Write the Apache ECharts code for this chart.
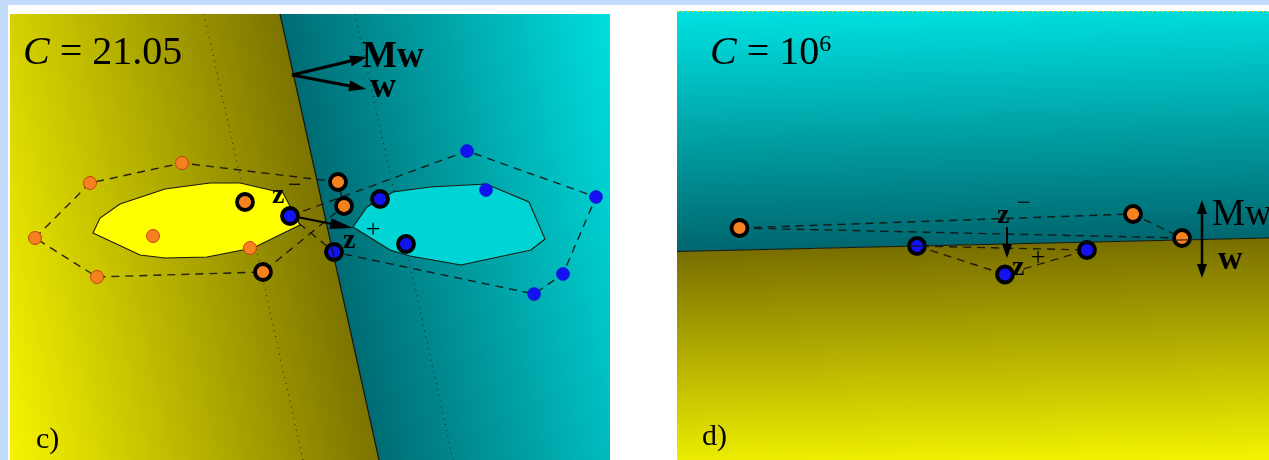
<!DOCTYPE html>
<html>
<head>
<meta charset="utf-8">
<script src="https://cdn.jsdelivr.net/npm/echarts@6/dist/echarts.min.js"></script>
<style>
  html, body { margin: 0; padding: 0; background: #fff; }
  #chart { width: 1269px; height: 460px; }
</style>
</head>
<body>
<div id="chart"></div>
<script>
// ---------- Panel c: soft-margin SVM, C = 21.05 ----------
const cNegPoints  = [[0.25, 2.22], [0.80, 2.77], [1.72, 2.97], [0.87, 1.83], [1.43, 2.24], [2.40, 2.12]];
const cNegSupport = [[2.35, 2.58], [2.53, 1.88], [3.28, 2.78], [3.34, 2.54]];
const cPosPoints  = [[4.57, 3.09], [4.76, 2.70], [5.86, 2.63], [5.53, 1.86], [5.24, 1.66]];
const cPosSupport = [[2.80, 2.44], [3.24, 2.08], [3.70, 2.61], [3.96, 2.16]];
const cNegHull = [[0.25, 2.22], [0.80, 2.77], [1.72, 2.97], [3.28, 2.78], [3.34, 2.54], [2.53, 1.88], [0.87, 1.83]];
const cPosHull = [[2.80, 2.44], [4.57, 3.09], [5.86, 2.63], [5.53, 1.86], [5.24, 1.66], [3.24, 2.08]];
const cNegContour = [[0.83, 2.27], [0.90, 2.42], [1.10, 2.56], [1.55, 2.71], [2.00, 2.77], [2.30, 2.77],
                     [2.73, 2.67], [2.90, 2.35], [2.43, 2.12], [1.97, 2.03], [1.55, 2.02], [1.30, 2.05]];
const cPosContour = [[3.43, 2.33], [3.57, 2.53], [3.83, 2.68], [4.20, 2.73], [4.76, 2.76], [5.19, 2.58],
                     [5.35, 2.21], [5.21, 2.10], [4.51, 1.95], [4.00, 2.04], [3.80, 2.10]];
const cBoundary  = [[2.70, 4.46], [3.69, 0]];
const cMarginNeg = [[1.94, 4.46], [2.93, 0]];
const cMarginPos = [[3.45, 4.46], [4.43, 0]];
const cNormal = { origin: [2.82, 3.85], w: [3.56, 3.71], Mw: [3.57, 4.03] };
const cZArrow = [[2.87, 2.43], [3.43, 2.32]];
const cRange = { x: [0, 6], y: [0, 4.46] };

// ---------- Panel d: hard margin, C = 10^6 ----------
const dNegSupport = [[0.625, 2.32], [4.56, 2.46], [5.05, 2.22]];
const dPosSupport = [[2.40, 2.14], [3.28, 1.855], [4.10, 2.10]];
const dNegHull = [[0.625, 2.32], [4.56, 2.46], [5.05, 2.22]];
const dPosHull = [[2.40, 2.14], [3.28, 1.855], [4.10, 2.10]];
const dBoundary = [[0, 2.085], [5.92, 2.22]];
const dNormal = { origin: [5.25, 2.22], Mw: [5.25, 2.60], w: [5.25, 1.82] };
const dZArrow = [[3.30, 2.33], [3.30, 2.02]];
const dRange = { x: [0, 5.92], y: [0, 4.49] };

// ---------- drawing ----------
const SERIF = '"Liberation Serif", "DejaVu Serif", serif';
const ORANGE = '#f5821f', BLUE = '#1212f2';

// keep the part of a pixel polygon where f(p) >= 0
function clipHalf(pts, f) {
  const out = [];
  for (let i = 0; i < pts.length; i++) {
    const a = pts[i], b = pts[(i + 1) % pts.length], fa = f(a), fb = f(b);
    if (fa >= 0) out.push(a);
    if ((fa >= 0) !== (fb >= 0)) {
      const t = fa / (fa - fb);
      out.push([a[0] + t * (b[0] - a[0]), a[1] + t * (b[1] - a[1])]);
    }
  }
  return out;
}

// two half-planes shaded by distance to the decision boundary
function regionSeries(axis, boundary, range, neg, pos) {
  return {
    type: 'custom', xAxisIndex: axis, yAxisIndex: axis, silent: true, z: 1,
    data: [[range.x[0], range.y[0]]],
    renderItem(params, api) {
      const P0 = api.coord(boundary[0]), P1 = api.coord(boundary[1]);
      const dx = P1[0] - P0[0], dy = P1[1] - P0[1], L = Math.hypot(dx, dy);
      const n = [dy / L, -dx / L];
      const f = p => (p[0] - P0[0]) * n[0] + (p[1] - P0[1]) * n[1];
      const rect = [[range.x[0], range.y[1]], [range.x[1], range.y[1]], [range.x[1], range.y[0]], [range.x[0], range.y[0]]]
        .map(c => api.coord(c));
      const d = rect.map(f);
      const dPos = Math.max(...d), dNeg = -Math.min(...d);
      const gPos = new echarts.graphic.LinearGradient(P0[0], P0[1], P0[0] + n[0] * dPos, P0[1] + n[1] * dPos,
        [{ offset: 0, color: pos[0] }, { offset: 1, color: pos[1] }], true);
      const gNeg = new echarts.graphic.LinearGradient(P0[0], P0[1], P0[0] - n[0] * dNeg, P0[1] - n[1] * dNeg,
        [{ offset: 0, color: neg[0] }, { offset: 1, color: neg[1] }], true);
      return {
        type: 'group', children: [
          { type: 'polygon', shape: { points: clipHalf(rect, f) }, style: { fill: gPos } },
          { type: 'polygon', shape: { points: clipHalf(rect, p => -f(p)) }, style: { fill: gNeg } }
        ]
      };
    }
  };
}

// polylines / polygons given in data coordinates
function shapeSeries(axis, z, list) {
  return {
    type: 'custom', xAxisIndex: axis, yAxisIndex: axis, silent: true, z,
    data: list.map(s => s.points[0]),
    renderItem(params, api) {
      const s = list[params.dataIndex];
      const pts = s.points.map(p => api.coord(p));
      return { type: s.closed ? 'polygon' : 'polyline', shape: { points: pts }, style: s.style };
    }
  };
}

function arrowParts(a, b, head, width, lw) {
  const dx = b[0] - a[0], dy = b[1] - a[1], L = Math.hypot(dx, dy), ux = dx / L, uy = dy / L;
  const base = [b[0] - ux * head, b[1] - uy * head];
  return [
    { type: 'line', shape: { x1: a[0], y1: a[1], x2: base[0] + ux * 2, y2: base[1] + uy * 2 },
      style: { stroke: '#000', lineWidth: lw } },
    { type: 'polygon', shape: { points: [b, [base[0] - uy * width / 2, base[1] + ux * width / 2],
                                            [base[0] + uy * width / 2, base[1] - ux * width / 2]] },
      style: { fill: '#000' } }
  ];
}

function arrowSeries(axis, list) {
  return {
    type: 'custom', xAxisIndex: axis, yAxisIndex: axis, silent: true, z: 10,
    data: list.map(a => a.from),
    renderItem(params, api) {
      const a = list[params.dataIndex];
      return { type: 'group', children: arrowParts(api.coord(a.from), api.coord(a.to), a.head, a.width, a.lw) };
    }
  };
}

function labelSeries(axis, list) {
  return {
    type: 'custom', xAxisIndex: axis, yAxisIndex: axis, silent: true, z: 11,
    data: list.map(l => l.at),
    renderItem(params, api) {
      const l = list[params.dataIndex];
      const p = api.coord(l.at);
      return {
        type: 'text', x: p[0] + l.dx, y: p[1] + l.dy,
        style: {
          text: l.text, fill: '#000', fontFamily: SERIF, fontSize: l.size,
          fontWeight: l.bold ? 'bold' : 'normal',
          align: l.align || 'left', verticalAlign: 'middle'
        }
      };
    }
  };
}

function dots(axis, data, size, fill, border, bw, z) {
  return {
    type: 'scatter', xAxisIndex: axis, yAxisIndex: axis, data, silent: true, z,
    symbol: 'circle', symbolSize: size,
    itemStyle: { color: fill, borderColor: border, borderWidth: bw, opacity: 1 }
  };
}

const hullStyle = { fill: 'none', stroke: 'rgba(20,20,15,0.9)', lineWidth: 1.4, lineDash: [8, 6] };
const marginStyle = { fill: 'none', stroke: 'rgba(0,0,0,0.6)', lineWidth: 1.2, lineDash: [1, 5] };
const boundaryStyle = { fill: 'none', stroke: '#151510', lineWidth: 1.2 };

const chart = echarts.init(document.getElementById('chart'), null, { renderer: 'canvas' });

const axisBase = { type: 'value', show: false, splitLine: { show: false } };

chart.setOption({
  animation: false,
  backgroundColor: '#ffffff',
  grid: [
    { left: 10, top: 14, width: 600, height: 446 },
    { left: 677, top: 11, width: 592, height: 449 }
  ],
  xAxis: [
    Object.assign({ gridIndex: 0, min: cRange.x[0], max: cRange.x[1] }, axisBase),
    Object.assign({ gridIndex: 1, min: dRange.x[0], max: dRange.x[1] }, axisBase)
  ],
  yAxis: [
    Object.assign({ gridIndex: 0, min: cRange.y[0], max: cRange.y[1] }, axisBase),
    Object.assign({ gridIndex: 1, min: dRange.y[0], max: dRange.y[1] }, axisBase)
  ],
  graphic: [
    { type: 'rect', shape: { x: 0, y: 0, width: 1269, height: 5 }, style: { fill: '#c4dcfb' }, z: 0 },
    { type: 'rect', shape: { x: 0, y: 0, width: 8, height: 460 }, style: { fill: '#c4dcfb' }, z: 0 },
    { type: 'line', shape: { x1: 677, y1: 11.5, x2: 1269, y2: 11.5 },
      style: { stroke: '#e6e000', lineWidth: 1, lineDash: [2, 3] }, z: 50 },
    { type: 'text', x: 23, y: 53, z: 100,
      style: { text: '{i|C} = 21.05', fontFamily: SERIF, fontSize: 40, fill: '#000', verticalAlign: 'middle',
               rich: { i: { fontFamily: SERIF, fontSize: 40, fontStyle: 'italic' } } } },
    { type: 'text', x: 36, y: 440, z: 100,
      style: { text: 'c)', fontFamily: SERIF, fontSize: 30, fill: '#000', verticalAlign: 'middle' } },
    { type: 'text', x: 710, y: 53, z: 100,
      style: { text: '{i|C} = 10{s|6}', fontFamily: SERIF, fontSize: 40, fill: '#000', verticalAlign: 'middle',
               rich: { i: { fontFamily: SERIF, fontSize: 40, fontStyle: 'italic' },
                       s: { fontFamily: SERIF, fontSize: 24, verticalAlign: 'top' } } } },
    { type: 'text', x: 702, y: 437, z: 100,
      style: { text: 'd)', fontFamily: SERIF, fontSize: 30, fill: '#000', verticalAlign: 'middle' } }
  ],
  series: [
    // ---- panel c ----
    regionSeries(0, cBoundary, cRange, ['#7c7400', '#f6f400'], ['#006c74', '#00dede']),
    shapeSeries(0, 2, [
      { points: cMarginNeg, style: marginStyle },
      { points: cMarginPos, style: marginStyle }
    ]),
    shapeSeries(0, 3, [
      { points: cNegContour, closed: true, style: { fill: '#ffff00', stroke: '#1a1a10', lineWidth: 1.1 } },
      { points: cPosContour, closed: true, style: { fill: '#00d4d4', stroke: '#1a1a10', lineWidth: 1.1 } }
    ]),
    shapeSeries(0, 4, [
      { points: cNegHull, closed: true, style: hullStyle },
      { points: cPosHull, closed: true, style: hullStyle }
    ]),
    dots(0, cNegPoints, 13, ORANGE, '#c8401a', 1, 6),
    dots(0, cPosPoints, 13, BLUE, '#1010c0', 0.6, 6),
    dots(0, cNegSupport, 16, ORANGE, '#000', 3.8, 7),
    dots(0, cPosSupport, 16, BLUE, '#000', 3.8, 7),
    shapeSeries(0, 9, [{ points: cBoundary, style: boundaryStyle }]),
    arrowSeries(0, [
      { from: cNormal.origin, to: cNormal.Mw, head: 17, width: 11, lw: 3 },
      { from: cNormal.origin, to: cNormal.w, head: 17, width: 11, lw: 3 },
      { from: cZArrow[0], to: cZArrow[1], head: 23, width: 11, lw: 2 }
    ]),
    labelSeries(0, [
      { at: cNormal.Mw, dx: -5, dy: 0, text: 'Mw', size: 37, bold: true },
      { at: cNormal.w, dx: 4, dy: -1, text: 'w', size: 36, bold: true },
      { at: cZArrow[0], dx: -25, dy: -21, text: 'z', size: 28, bold: true },
      { at: cZArrow[0], dx: -9, dy: -31, text: '−', size: 24 },
      { at: cZArrow[1], dx: -10, dy: 13, text: 'z', size: 28, bold: true },
      { at: cZArrow[1], dx: 20, dy: 2, text: '+', size: 26, align: 'center' }
    ]),

    // ---- panel d ----
    regionSeries(1, dBoundary, dRange, ['#786e00', '#f4f400'], ['#00666e', '#00e2e2']),
    shapeSeries(1, 4, [
      { points: dNegHull, closed: true, style: hullStyle },
      { points: dPosHull, closed: true, style: hullStyle }
    ]),
    dots(1, dNegSupport, 16, ORANGE, '#000', 3.8, 7),
    dots(1, dPosSupport, 16, BLUE, '#000', 3.8, 7),
    shapeSeries(1, 9, [{ points: dBoundary, style: boundaryStyle }]),
    arrowSeries(1, [
      { from: dNormal.origin, to: dNormal.Mw, head: 14, width: 10, lw: 2.5 },
      { from: dNormal.origin, to: dNormal.w, head: 14, width: 10, lw: 2.5 },
      { from: dZArrow[0], to: dZArrow[1], head: 14, width: 10, lw: 2 }
    ]),
    labelSeries(1, [
      { at: dNormal.Mw, dx: 10, dy: 15, text: 'Mw', size: 37 },
      { at: dNormal.w, dx: 16, dy: -18, text: 'w', size: 34, bold: true },
      { at: dZArrow[0], dx: -10, dy: -11, text: 'z', size: 28, bold: true },
      { at: dZArrow[0], dx: 10, dy: -23, text: '−', size: 24 },
      { at: dZArrow[1], dx: 5, dy: 10, text: 'z', size: 28, bold: true },
      { at: dZArrow[1], dx: 31, dy: 0, text: '+', size: 26, align: 'center' }
    ])
  ]
});
</script>
</body>
</html>
